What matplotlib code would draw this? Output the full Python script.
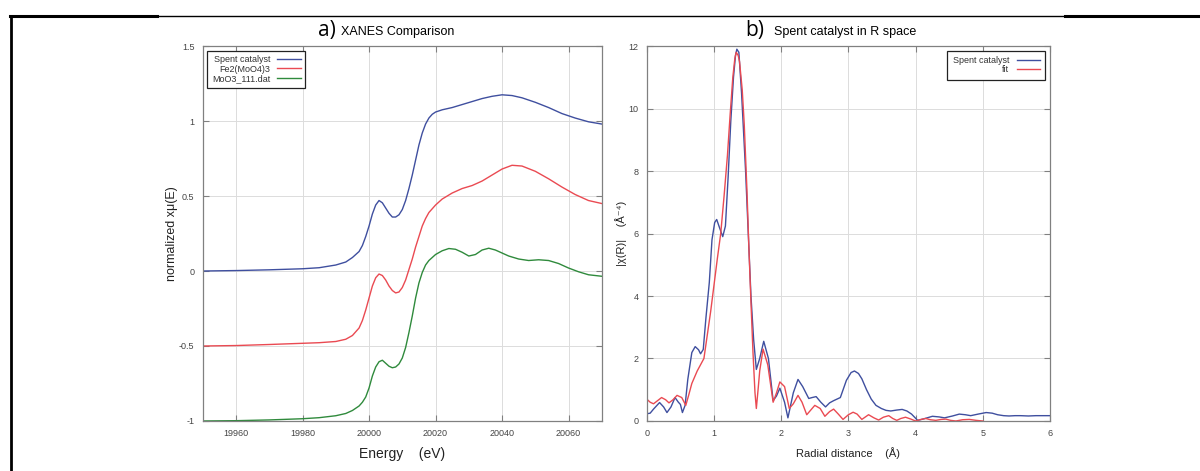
import numpy as np
import matplotlib
matplotlib.use('Agg')
import matplotlib.pyplot as plt
from matplotlib.lines import Line2D

plt.rcParams['font.family'] = ['Liberation Sans', 'DejaVu Sans']

# a) XANES - energia (eV) e assorbimento normalizzato
energy_blue = [19950, 19960, 19970, 19980, 19985, 19990, 19993, 19995, 19997, 19998, 19999,
               20000, 20001, 20002, 20003, 20004, 20005, 20006, 20007, 20008, 20009, 20010,
               20011, 20012, 20013, 20014, 20015, 20016, 20017, 20018, 20019, 20020, 20022,
               20025, 20028, 20031, 20034, 20037, 20040, 20043, 20046, 20050, 20054, 20058,
               20062, 20066, 20070]
mu_blue = [0.0, 0.003, 0.008, 0.015, 0.022, 0.04, 0.06, 0.09, 0.13, 0.17, 0.23,
           0.30, 0.38, 0.44, 0.47, 0.455, 0.42, 0.385, 0.36, 0.36, 0.375, 0.41,
           0.47, 0.55, 0.64, 0.74, 0.84, 0.92, 0.98, 1.02, 1.045, 1.06, 1.075,
           1.09, 1.11, 1.13, 1.15, 1.165, 1.175, 1.17, 1.155, 1.125, 1.09, 1.05,
           1.02, 0.995, 0.98]

energy_red = [19950, 19960, 19970, 19980, 19985, 19990, 19993, 19995, 19997, 19998, 19999,
              20000, 20001, 20002, 20003, 20004, 20005, 20006, 20007, 20008, 20009, 20010,
              20011, 20012, 20013, 20014, 20015, 20016, 20017, 20018, 20020, 20022, 20025,
              20028, 20031, 20034, 20037, 20040, 20043, 20046, 20050, 20054, 20058, 20062,
              20066, 20070]
mu_red = [-0.5, -0.497, -0.49, -0.482, -0.478, -0.47, -0.455, -0.43, -0.38, -0.33, -0.26,
          -0.18, -0.1, -0.045, -0.02, -0.03, -0.06, -0.1, -0.13, -0.146, -0.14, -0.11,
          -0.06, 0.01, 0.08, 0.16, 0.23, 0.3, 0.35, 0.39, 0.44, 0.48, 0.52,
          0.55, 0.57, 0.6, 0.64, 0.68, 0.705, 0.7, 0.665, 0.615, 0.56, 0.51,
          0.47, 0.45]

energy_green = [19950, 19960, 19970, 19980, 19985, 19990, 19993, 19995, 19997, 19998, 19999,
                20000, 20001, 20002, 20003, 20004, 20005, 20006, 20007, 20008, 20009, 20010,
                20011, 20012, 20013, 20014, 20015, 20016, 20017, 20018, 20020, 20022, 20024,
                20026, 20028, 20030, 20032, 20034, 20036, 20038, 20040, 20042, 20045, 20048,
                20051, 20054, 20057, 20060, 20063, 20066, 20070]
mu_green = [-1.0, -0.998, -0.993, -0.985, -0.978, -0.965, -0.95, -0.93, -0.9, -0.875, -0.84,
            -0.78, -0.7, -0.64, -0.605, -0.595, -0.615, -0.635, -0.645, -0.64, -0.62, -0.58,
            -0.51, -0.41, -0.3, -0.18, -0.08, -0.01, 0.04, 0.07, 0.11, 0.135, 0.15,
            0.145, 0.125, 0.1, 0.11, 0.14, 0.152, 0.14, 0.12, 0.1, 0.08, 0.07,
            0.075, 0.07, 0.05, 0.02, -0.005, -0.025, -0.035]

# b) spazio R - distanza radiale (Å) e |chi(R)|
r_blue = [0.0, 0.05, 0.1, 0.19, 0.25, 0.3, 0.36, 0.42, 0.47, 0.5, 0.53, 0.57, 0.61, 0.67,
          0.72, 0.77, 0.8, 0.84, 0.88, 0.93, 0.97, 1.01, 1.04, 1.08, 1.13, 1.17, 1.21, 1.25,
          1.29, 1.32, 1.34, 1.37, 1.41, 1.47, 1.51, 1.55, 1.59, 1.63, 1.68, 1.74, 1.81, 1.88,
          1.93, 1.98, 2.05, 2.1, 2.18, 2.25, 2.32, 2.41, 2.46, 2.52, 2.59, 2.66, 2.72, 2.78,
          2.88, 2.97, 3.04, 3.09, 3.15, 3.2, 3.27, 3.34, 3.41, 3.49, 3.56, 3.63, 3.72, 3.8,
          3.87, 3.94, 4.03, 4.09, 4.14, 4.25, 4.35, 4.43, 4.55, 4.65, 4.74, 4.82, 4.93, 5.05,
          5.14, 5.22, 5.31, 5.39, 5.48, 5.56, 5.68, 5.79, 5.9, 6.0]
chi_blue = [0.23, 0.25, 0.38, 0.59, 0.45, 0.27, 0.45, 0.75, 0.6, 0.53, 0.27, 0.5, 1.33, 2.19,
            2.38, 2.28, 2.15, 2.29, 3.3, 4.43, 5.8, 6.35, 6.45, 6.2, 5.9, 6.24, 7.8, 9.6,
            11.0, 11.7, 11.9, 11.8, 10.5, 8.0, 6.0, 4.0, 2.6, 1.65, 2.0, 2.55, 2.0, 0.65,
            0.8, 1.05, 0.6, 0.1, 0.9, 1.33, 1.1, 0.72, 0.75, 0.78, 0.6, 0.45, 0.58, 0.65,
            0.75, 1.3, 1.55, 1.6, 1.52, 1.35, 1.0, 0.7, 0.5, 0.4, 0.34, 0.32, 0.35, 0.37,
            0.32, 0.22, 0.02, 0.05, 0.08, 0.15, 0.13, 0.1, 0.16, 0.22, 0.2, 0.17, 0.22, 0.27,
            0.25, 0.2, 0.17, 0.16, 0.17, 0.17, 0.16, 0.17, 0.17, 0.17]

r_fit = [0.0, 0.05, 0.1, 0.16, 0.22, 0.28, 0.33, 0.39, 0.45, 0.52, 0.58, 0.62, 0.67, 0.75,
         0.85, 0.95, 1.05, 1.1, 1.15, 1.2, 1.24, 1.28, 1.31, 1.33, 1.36, 1.38, 1.42, 1.45,
         1.49, 1.52, 1.55, 1.58, 1.61, 1.63, 1.66, 1.68, 1.73, 1.8, 1.88, 1.93, 1.98, 2.05,
         2.12, 2.18, 2.25, 2.31, 2.38, 2.44, 2.5, 2.58, 2.65, 2.72, 2.78, 2.85, 2.92, 3.0,
         3.07, 3.13, 3.2, 3.3, 3.38, 3.45, 3.52, 3.6, 3.66, 3.72, 3.78, 3.85, 3.93, 4.0,
         4.08, 4.15, 4.22, 4.3, 4.38, 4.45, 4.52, 4.6, 4.7, 4.8, 4.9, 5.0]
chi_fit = [0.7, 0.6, 0.55, 0.65, 0.75, 0.68, 0.58, 0.68, 0.82, 0.75, 0.5, 0.8, 1.2, 1.6,
           2.0, 3.5, 5.2, 6.0, 7.2, 8.5, 9.8, 11.0, 11.6, 11.8, 11.7, 11.5, 10.6, 9.5,
           7.4, 5.5, 3.8, 2.2, 0.9, 0.4, 1.1, 1.6, 2.3, 1.8, 0.6, 0.9, 1.25, 1.1,
           0.4, 0.55, 0.82, 0.6, 0.2, 0.35, 0.5, 0.4, 0.15, 0.3, 0.38, 0.22, 0.05, 0.2,
           0.28, 0.22, 0.05, 0.2, 0.1, 0.03, 0.12, 0.17, 0.08, 0.02, 0.08, 0.12, 0.06, 0.0,
           0.05, 0.08, 0.04, 0.02, 0.05, 0.06, 0.02, 0.0, 0.04, 0.05, 0.02, 0.0]

c_blue = '#3f4f9f'
c_red = '#ea4a52'
c_green = '#2f8a3c'
c_grid = '#dcdcdc'
c_spine = '#808080'

fig = plt.figure(figsize=(12, 4.71), dpi=100)
ax1 = fig.add_axes([0.169, 0.1062, 0.3325, 0.796])
ax2 = fig.add_axes([0.539, 0.1062, 0.336, 0.796])


def stile(ax):
    ax.grid(True, color=c_grid, linewidth=0.7)
    ax.set_axisbelow(True)
    for s in ax.spines.values():
        s.set_color(c_spine)
        s.set_linewidth(0.9)
    ax.tick_params(direction='in', top=True, right=True, length=4, width=0.8,
                   color=c_spine, labelsize=6.5, labelcolor='#444444', pad=6)


ax1.plot(energy_blue, mu_blue, color=c_blue, lw=1.0, label='Spent catalyst')
ax1.plot(energy_red, mu_red, color=c_red, lw=1.0, label='Fe2(MoO4)3')
ax1.plot(energy_green, mu_green, color=c_green, lw=1.0, label='MoO3_111.dat')
ax1.set_xlim(19950, 20070)
ax1.set_ylim(-1, 1.5)
ax1.set_xticks([19960, 19980, 20000, 20020, 20040, 20060])
ax1.set_yticks([-1, -0.5, 0, 0.5, 1, 1.5])
ax1.set_yticklabels(['-1', '-0.5', '0', '0.5', '1', '1.5'])
stile(ax1)
ax1.set_xlabel('Energy    (eV)', fontsize=10, color='#222222', labelpad=6)
ax1.set_ylabel('normalized xμ(E)', fontsize=9, color='#222222', labelpad=1)
leg1 = ax1.legend(loc='upper left', fontsize=6.5, markerfirst=False, fancybox=False,
                  edgecolor='#222222', framealpha=1, handlelength=2.6, labelspacing=0.05,
                  borderaxespad=0.5, borderpad=0.5)
leg1.get_frame().set_linewidth(0.9)
for t in leg1.get_texts():
    t.set_color('#333333')

ax2.plot(r_blue, chi_blue, color=c_blue, lw=1.0, label='Spent catalyst')
ax2.plot(r_fit, chi_fit, color=c_red, lw=1.0, label='fit')
ax2.set_xlim(0, 6)
ax2.set_ylim(0, 12)
ax2.set_xticks(range(0, 7))
ax2.set_yticks(range(0, 13, 2))
stile(ax2)
ax2.set_xlabel('Radial distance    (Å)', fontsize=8, color='#222222', labelpad=6)
ax2.set_ylabel('|χ(R)|    (Å\u207b\u2074)', fontsize=8, color='#222222', labelpad=1)
leg2 = ax2.legend(loc='upper right', fontsize=6.5, markerfirst=False, fancybox=False,
                  edgecolor='#222222', framealpha=1, handlelength=2.6, labelspacing=0.05,
                  borderaxespad=0.5, borderpad=0.6)
leg2.get_frame().set_linewidth(0.9)
for t in leg2.get_texts():
    t.set_color('#333333')

# titoli
fig.text(0.265, 0.935, 'a)', fontsize=15, family='Open Sans', va='center', ha='left')
fig.text(0.284, 0.932, 'XANES Comparison', fontsize=9, va='center', ha='left')
fig.text(0.621, 0.935, 'b)', fontsize=15, family='Open Sans', va='center', ha='left')
fig.text(0.645, 0.932, 'Spent catalyst in R space', fontsize=9, va='center', ha='left')

# cornice del documento
y_top = 1 - 15.5 / 471
fig.add_artist(Line2D([10 / 1200, 157 / 1200], [y_top, y_top], color='black', lw=2.2))
fig.add_artist(Line2D([157 / 1200, 1065 / 1200], [y_top, y_top], color='black', lw=1.0))
fig.add_artist(Line2D([1065 / 1200, 1.0], [y_top, y_top], color='black', lw=2.2))
fig.add_artist(Line2D([11 / 1200, 11 / 1200], [0, y_top], color='black', lw=2.0))

fig.savefig('out.png', dpi=100)
